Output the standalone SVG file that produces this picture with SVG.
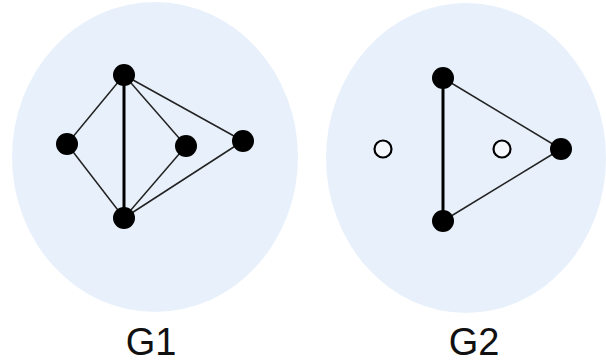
<svg xmlns="http://www.w3.org/2000/svg" width="606" height="364" viewBox="0 0 606 364">
<style>
.bg{fill:#e8f1fb}
.n{fill:#000}
.h{fill:#f4f8fd;stroke:#000;stroke-width:2.2}
.e{stroke:#222;stroke-width:1.5;fill:none}
.v{stroke:#000;stroke-width:3;fill:none}
.lbl{font-family:"Liberation Sans",Arial,sans-serif;font-size:38px;fill:#111;text-anchor:middle}
</style>
<rect width="606" height="364" fill="#fff"/>
<g id="G1">
<ellipse class="bg" cx="155" cy="157" rx="143" ry="155"/>
<g id="g1-edges">
<line class="e" x1="124" y1="75" x2="67" y2="144"/>
<line class="e" x1="67" y1="144" x2="124" y2="218"/>
<line class="v" x1="124" y1="75" x2="124" y2="218"/>
<line class="e" x1="124" y1="75" x2="186" y2="146"/>
<line class="e" x1="124" y1="75" x2="243" y2="141"/>
<line class="e" x1="186" y1="146" x2="124" y2="218"/>
<line class="e" x1="243" y1="141" x2="124" y2="218"/>
</g>
<g id="g1-a"><circle class="n" cx="124" cy="75" r="11"/></g>
<g id="g1-b"><circle class="n" cx="67" cy="144" r="11"/></g>
<g id="g1-c"><circle class="n" cx="186" cy="146" r="11"/></g>
<g id="g1-d"><circle class="n" cx="243" cy="141" r="11"/></g>
<g id="g1-e"><circle class="n" cx="124" cy="218" r="11"/></g>
<text class="lbl" x="151" y="355">G1</text>
</g>
<g id="G2">
<ellipse class="bg" cx="466" cy="158" rx="140" ry="155"/>
<g id="g2-edges">
<line class="v" x1="443" y1="78" x2="443" y2="221"/>
<line class="e" x1="443" y1="78" x2="561" y2="149"/>
<line class="e" x1="443" y1="221" x2="561" y2="149"/>
</g>
<g id="g2-a"><circle class="n" cx="443" cy="78" r="11"/></g>
<g id="g2-b"><circle class="h" cx="383" cy="149" r="8.5"/></g>
<g id="g2-c"><circle class="h" cx="502" cy="149" r="8.5"/></g>
<g id="g2-d"><circle class="n" cx="561" cy="149" r="11"/></g>
<g id="g2-e"><circle class="n" cx="443" cy="221" r="11"/></g>
<text class="lbl" x="474" y="355">G2</text>
</g>
</svg>
